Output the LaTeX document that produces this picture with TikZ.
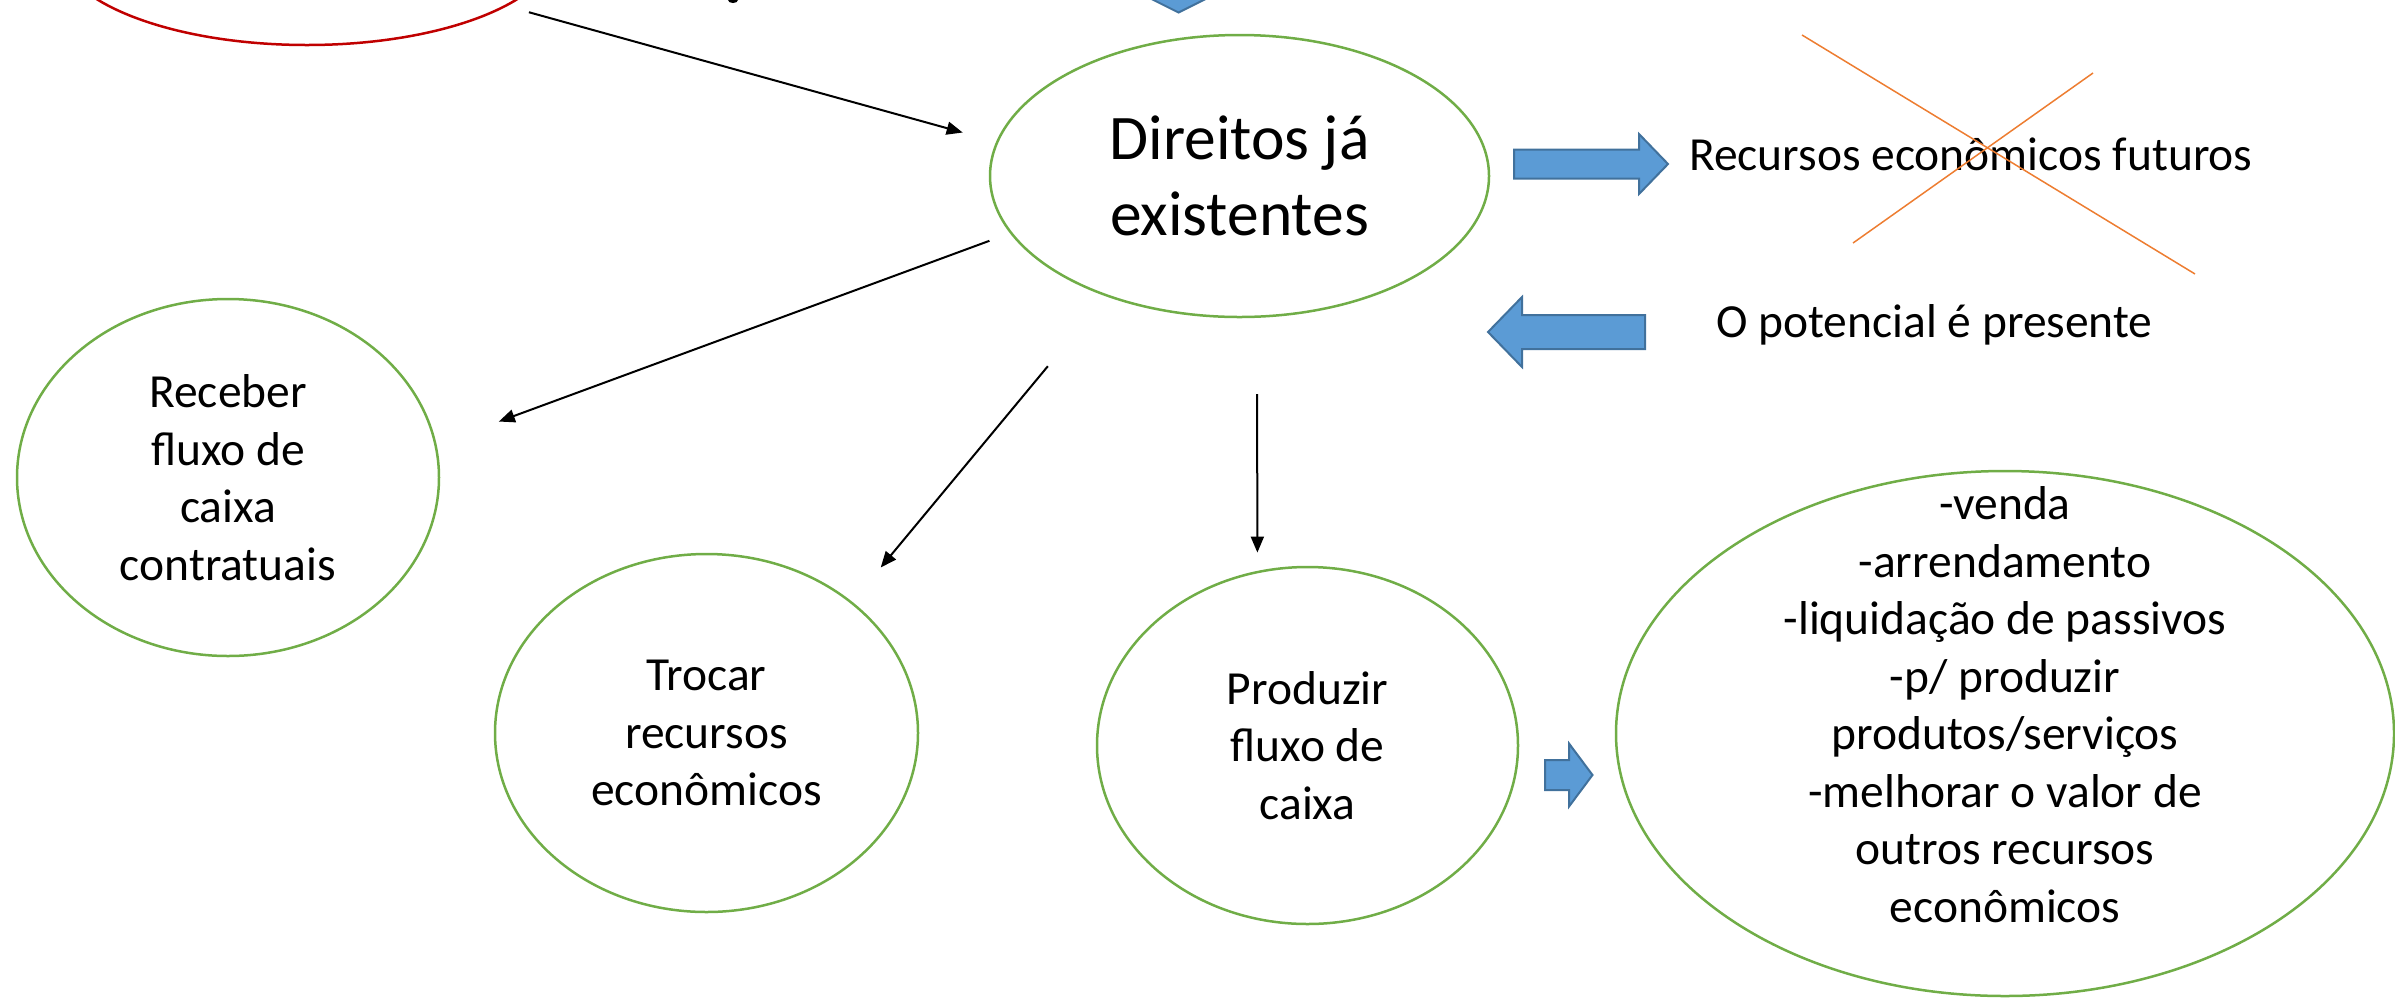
\documentclass[tikz,border=0pt]{standalone}
\usepackage{fontspec}
\setmainfont{Carlito}
\usetikzlibrary{shapes.geometric, arrows.meta}

\definecolor{bubblegreen}{HTML}{70AD47}
\definecolor{bubblered}{HTML}{C00000}
\definecolor{shapeblue}{HTML}{5B9BD5}
\definecolor{shapeedge}{HTML}{41719C}
\definecolor{crossorange}{HTML}{ED7D31}

\newcommand{\bigtext}{\fontsize{63.5}{76.5}\selectfont}
\newcommand{\smalltext}{\fontsize{47.5}{57.5}\selectfont}

\tikzset{
  bubble/.style={ellipse, draw=bubblegreen, line width=2.5pt, inner sep=0pt, align=center, font=\smalltext},
  link/.style={-{Triangle[length=16pt,width=13pt]}, line width=2pt},
  blockarrow/.style={fill=shapeblue, draw=shapeedge, line width=2pt, line join=miter},
}

\begin{document}
\begin{tikzpicture}[x=1pt, y=-1pt]
\useasboundingbox (0,0) rectangle (2395,997);
\clip (0,0) rectangle (2395,997);
\node[bubble, draw=bubblered, minimum width=500pt, minimum height=200pt] (origin) at (307,-55) {};
\node[bubble, font=\bigtext, minimum width=499pt, minimum height=282pt] (rights) at (1239.5,176) {Direitos já\\existentes};
\node[bubble, minimum width=422pt, minimum height=357pt] (receive) at (228,477.5) {Receber\\fluxo de\\caixa\\contratuais};
\node[bubble, minimum width=423pt, minimum height=358pt] (exchange) at (706.5,733) {Trocar\\recursos\\econômicos};
\node[bubble, minimum width=421pt, minimum height=357pt] (produce) at (1307.5,745.5) {Produzir\\fluxo de\\caixa};
\node[bubble, minimum width=778pt, minimum height=525pt] (uses) at (2005,733.5) {};
\node[align=center, font=\smalltext, yshift=29pt] (usestext) at (uses) {-venda\\-arrendamento\\-liquidação de passivos\\-p/ produzir\\produtos/serviços\\-melhorar o valor de\\outros recursos\\econômicos};
\node[anchor=base west, font=\smalltext, inner sep=0pt] (future) at (1689,170) {Recursos econômicos futuros};
\node[anchor=base west, font=\smalltext, inner sep=0pt] (potential) at (1716,337) {O potencial é presente};

\draw[link, shorten <=22.6pt, shorten >=34.7pt] (origin.-17.07) -- (rights.172.59);
\draw[link, shorten <=21.9pt, shorten >=66.3pt] (rights.194.18) -- (receive.9.88);
\draw[link, shorten <=90.8pt, shorten >=44.5pt] (rights.222.25) -- (exchange.42.77);
\draw[link, shorten <=76.3pt, shorten >=18.3pt] (rights.-83.07) -- (produce.106.38);

\draw[blockarrow] (1514,149.5) -- (1639,149.5) -- (1639,134) -- (1668,164) -- (1639,194) -- (1639,178.5) -- (1514,178.5) -- cycle;
\draw[blockarrow] (1645,315) -- (1522,315) -- (1522,297) -- (1488,332) -- (1522,367) -- (1522,349) -- (1645,349) -- cycle;
\draw[blockarrow] (1545,760) -- (1569,760) -- (1569,743.5) -- (1592.5,775) -- (1569,806.5) -- (1569,790) -- (1545,790) -- cycle;
\draw[blockarrow] (1129.5,-12) -- (1227.5,-12) -- (1178.5,12.5) -- cycle;
\fill (733,0) ellipse (5 and 3);

\draw[crossorange, line width=1.5pt] (1802,35) -- (2195,274);
\draw[crossorange, line width=1.5pt] (1853,243) -- (2093,73);
\end{tikzpicture}
\end{document}
